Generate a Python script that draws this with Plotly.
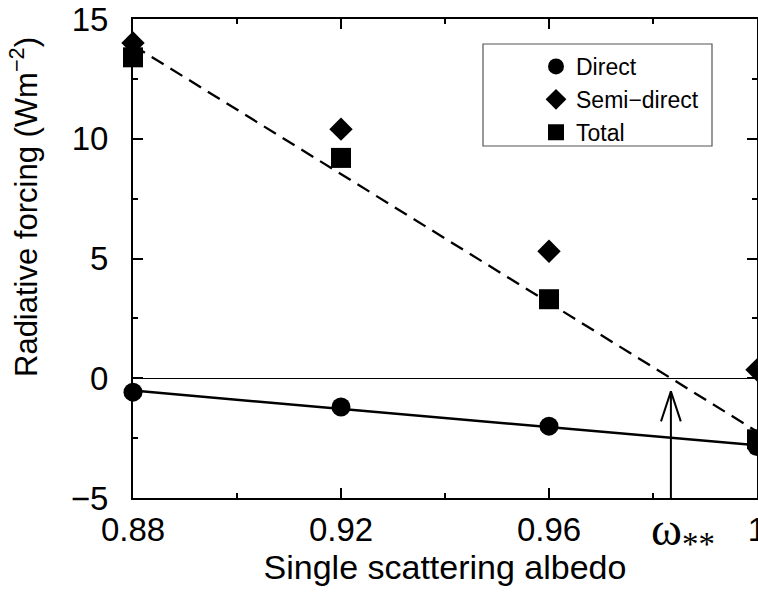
import numpy as np
import plotly.graph_objects as go

# Single scattering albedo of the absorbing aerosol
albedo = [0.88, 0.92, 0.96, 1.00]

# Radiative forcing components (W m^-2)
direct = [-0.58, -1.20, -2.00, -2.85]
semi_direct = [14.0, 10.4, 5.3, 0.35]
total = [13.4, 9.2, 3.3, -2.55]

x_ticks = [0.88, 0.92, 0.96, 1.00]
x_tick_text = ["0.88", "0.92", "0.96", "1"]
y_ticks = [-5, 0, 5, 10, 15]
y_tick_text = ["\u22125", "0", "5", "10", "15"]

# Linear fits through the direct and total forcing
xs = np.array(albedo)
d_fit = np.polyfit(xs, direct, 1)
t_fit = np.polyfit(xs, total, 1)
x_line = np.array([0.88, 1.0])
omega_ss = -t_fit[1] / t_fit[0]  # albedo where total forcing changes sign

FONT = "Liberation Sans, Arial, Helvetica, sans-serif"

fig = go.Figure()

fig.add_trace(go.Scatter(
    x=x_line, y=np.polyval(d_fit, x_line), mode="lines",
    line=dict(color="black", width=2.5), showlegend=False, hoverinfo="skip",
    cliponaxis=False))
fig.add_trace(go.Scatter(
    x=x_line, y=np.polyval(t_fit, x_line), mode="lines",
    line=dict(color="black", width=2.3, dash="14px,8px"), showlegend=False,
    hoverinfo="skip", cliponaxis=False))

# Arrow marking the zero crossing of the total forcing fit
tip = -0.55
head_dx = 0.0019
head_dy = 1.25
fig.add_trace(go.Scatter(
    x=[omega_ss, omega_ss, None, omega_ss - head_dx, omega_ss, omega_ss + head_dx],
    y=[-5, tip, None, tip - head_dy, tip, tip - head_dy],
    mode="lines", line=dict(color="black", width=2), showlegend=False,
    hoverinfo="skip"))

fig.add_trace(go.Scatter(
    x=albedo, y=direct, mode="markers", name="Direct",
    marker=dict(symbol="circle", size=19, color="black"), cliponaxis=False))
fig.add_trace(go.Scatter(
    x=albedo, y=semi_direct, mode="markers", name="Semi\u2212direct",
    marker=dict(symbol="diamond", size=18, color="black"), cliponaxis=False))
fig.add_trace(go.Scatter(
    x=albedo, y=total, mode="markers", name="Total",
    marker=dict(symbol="square", size=20, color="black"), cliponaxis=False))

axis_common = dict(
    showline=True, linecolor="black", linewidth=2, mirror="ticks",
    ticks="inside", ticklen=10, tickwidth=1.5, tickcolor="black",
    showgrid=False, tickfont=dict(family=FONT, size=33, color="black"),
    ticklabeloverflow="allow", automargin=False,
)

fig.update_xaxes(
    range=[0.88, 1.0], tickvals=x_ticks, ticktext=x_tick_text,
    minor=dict(ticks="inside", ticklen=5, dtick=0.02, tick0=0.88,
               tickcolor="black", tickwidth=1.5),
    zeroline=False, ticklabelstandoff=1,
    title=dict(text="Single scattering albedo",
               font=dict(family=FONT, size=34, color="black"), standoff=6),
    **axis_common)
fig.update_yaxes(
    range=[-5, 15], tickvals=y_ticks, ticktext=y_tick_text,
    minor=dict(ticks="inside", ticklen=5, dtick=2.5, tick0=-5,
               tickcolor="black", tickwidth=1.5),
    zeroline=True, zerolinecolor="black", zerolinewidth=1.2,
    ticklabelstandoff=16,
    **axis_common)

# Y-axis title, placed as a rotated label
fig.add_annotation(
    x=(24 - 133) / 624, y=(498 - 207) / 479, xref="paper", yref="paper",
    xanchor="center", yanchor="middle", showarrow=False, textangle=-90,
    text="Radiative forcing (Wm<sup>\u22122</sup>)",
    font=dict(family=FONT, size=31, color="black"))

fig.add_annotation(
    x=omega_ss, y=-5, xref="x", yref="y", yanchor="top", xanchor="center",
    xshift=12, yshift=-3, showarrow=False,
    text="\u03c9<sub>**</sub>",
    font=dict(family="Liberation Serif, DejaVu Serif, serif", size=47,
              color="black"))

# Legend frame
fig.add_shape(type="rect", xref="paper", yref="paper",
              x0=(483 - 133) / 624, x1=(712 - 133) / 624,
              y0=(498 - 146) / 479, y1=(498 - 44) / 479,
              line=dict(color="#555555", width=1.2), fillcolor="white",
              layer="below")

fig.update_layout(
    width=758, height=592,
    margin=dict(l=133, r=1, t=19, b=94, autoexpand=False),
    paper_bgcolor="white", plot_bgcolor="white",
    font=dict(family=FONT, color="black"),
    legend=dict(x=(536 - 133) / 624, y=(498 - 45) / 479,
                xanchor="left", yanchor="top",
                bgcolor="rgba(0,0,0,0)", borderwidth=0,
                font=dict(family=FONT, size=23, color="black"),
                itemwidth=30, tracegroupgap=0),
)

fig.write_html("out.html")
